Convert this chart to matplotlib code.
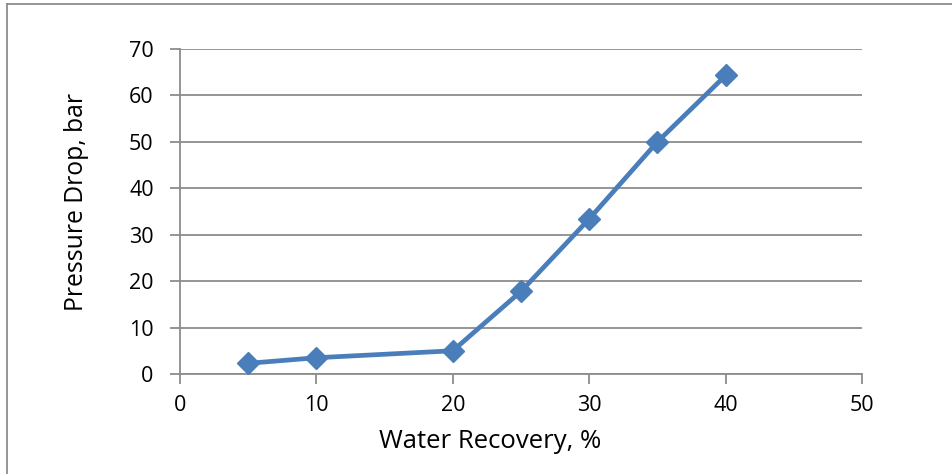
import matplotlib.pyplot as plt
from matplotlib.lines import Line2D

# water recovery (%) vs pressure drop (bar)
recovery = [5, 10, 20, 25, 30, 35, 40]
pressure_drop = [2.3, 3.5, 5.0, 17.8, 33.4, 50.0, 64.3]
x_ticks = [0, 10, 20, 30, 40, 50]
y_ticks = [0, 10, 20, 30, 40, 50, 60, 70]

plt.rcParams['font.family'] = ['Open Sans', 'DejaVu Sans']
grey = '#8c8c8c'

fig = plt.figure(figsize=(9.53, 4.74), dpi=100)
ax = fig.add_axes([0.1889, 0.211, 0.7156, 0.6856])

ax.plot(recovery, pressure_drop, color='#4a7ebb', linewidth=3.4,
        marker='D', markersize=11.5, zorder=3)

ax.set_xlim(0, 50)
ax.set_ylim(0, 70)
ax.set_xticks(x_ticks)
ax.set_yticks(y_ticks)
ax.grid(axis='y', color=grey, linewidth=1.3)
ax.set_axisbelow(True)
for side in ['top', 'right']:
    ax.spines[side].set_visible(False)
for side in ['left', 'bottom']:
    ax.spines[side].set_color(grey)
    ax.spines[side].set_linewidth(1.3)
ax.tick_params(colors=grey, labelcolor='black', labelsize=15.5, length=7, width=1.3)
ax.tick_params(axis='y', pad=12)
ax.tick_params(axis='x', pad=8)

ax.set_xlabel('Water Recovery, %', fontsize=18.5)
ax.set_ylabel('Pressure Drop, bar', fontsize=17.8)
# labels sit a bit off-centre in the original
ax.xaxis.set_label_coords(0.4545, -0.168)
ax.yaxis.set_label_coords(-0.133, 0.529)

# outer frame lines (top and left only)
fig.add_artist(Line2D([7 / 953, 1], [1 - 4 / 474, 1 - 4 / 474], color=grey, linewidth=1.3))
fig.add_artist(Line2D([7 / 953, 7 / 953], [0, 1 - 4 / 474], color=grey, linewidth=1.3))

fig.savefig('out.png', dpi=100)
